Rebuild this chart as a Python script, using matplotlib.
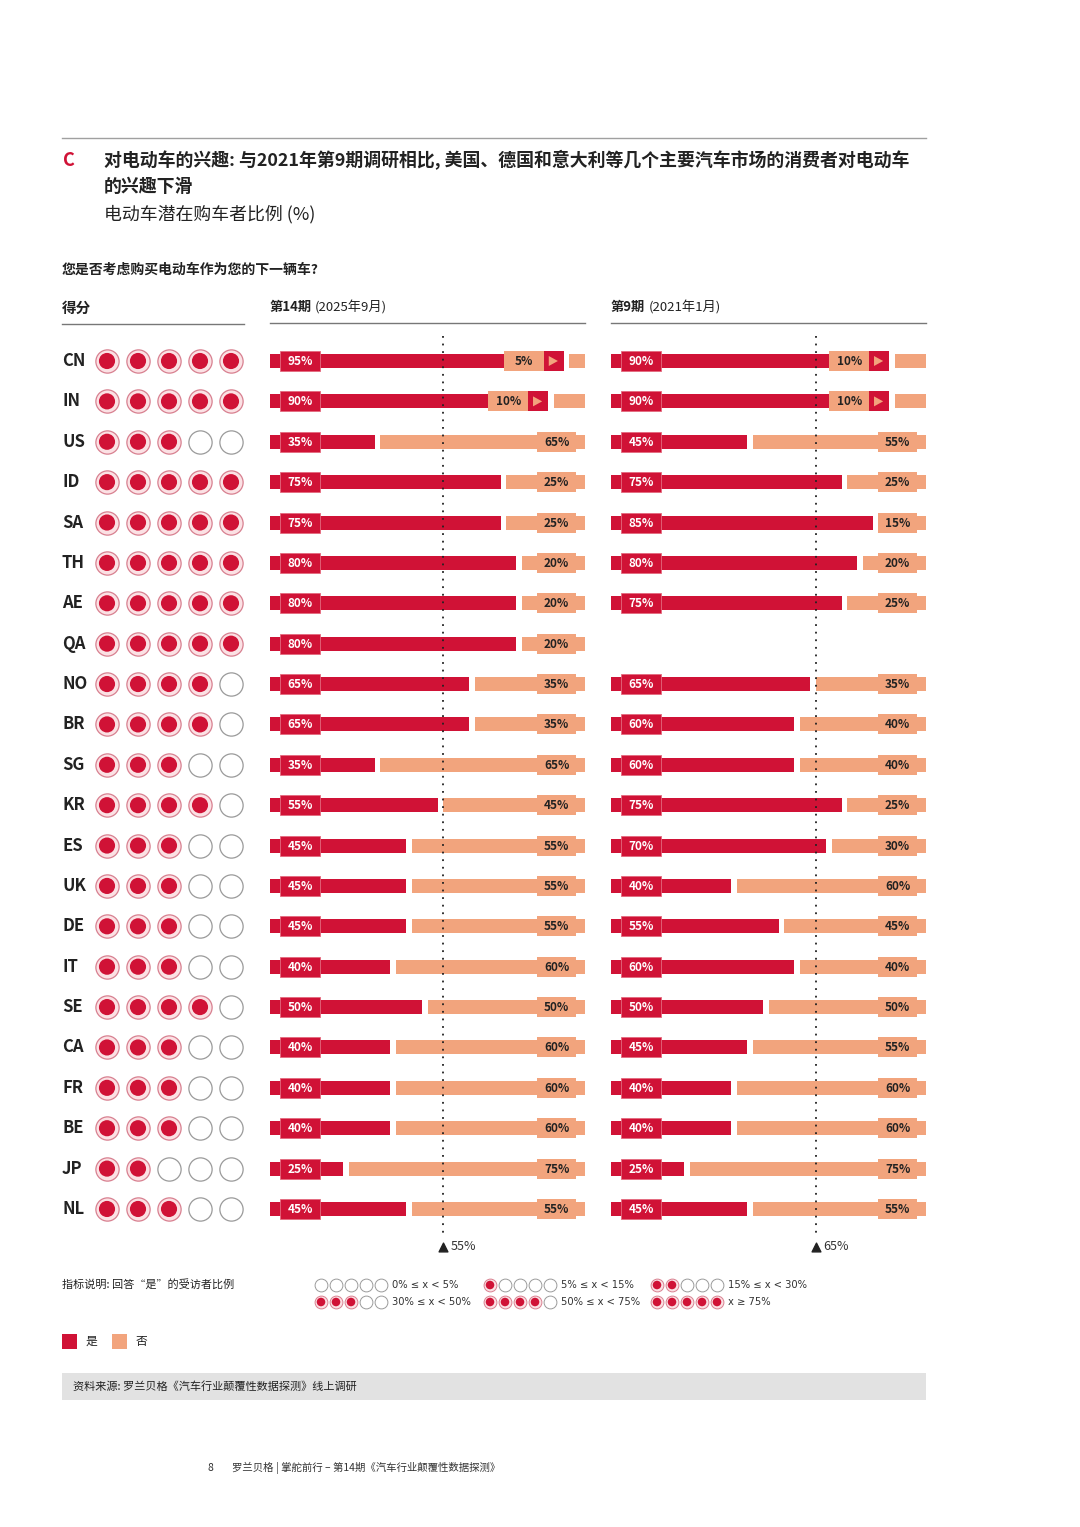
import matplotlib
matplotlib.use("Agg")
import matplotlib.pyplot as plt
from matplotlib.patches import Rectangle, Polygon

plt.rcParams['font.family'] = ['Noto Sans CJK SC', 'DejaVu Sans']

# data
countries = ["CN", "IN", "US", "ID", "SA", "TH", "AE", "QA", "NO", "BR", "SG",
             "KR", "ES", "UK", "DE", "IT", "SE", "CA", "FR", "BE", "JP", "NL"]
yes_2025 = [95, 90, 35, 75, 75, 80, 80, 80, 65, 65, 35,
            55, 45, 45, 45, 40, 50, 40, 40, 40, 25, 45]
yes_2021 = [90, 90, 45, 75, 85, 80, 75, None, 65, 60, 60,
            75, 70, 40, 55, 60, 50, 45, 40, 40, 25, 45]
scores = [5, 5, 3, 5, 5, 5, 5, 5, 4, 4, 3,
          4, 3, 3, 3, 3, 4, 3, 3, 3, 2, 3]
avg_2025 = 55
avg_2021 = 65

legend_filled = [0, 1, 2, 3, 4, 5]
legend_labels = ["0% ≤ x < 5%", "5% ≤ x < 15%", "15% ≤ x < 30%",
                 "30% ≤ x < 50%", "50% ≤ x < 75%", "x ≥ 75%"]

RED = '#D01236'
SALMON = '#F2A47D'
PINK = '#FBE1E4'
DARK = '#222222'
GREY = '#9A9A9A'

fig = plt.figure(figsize=(10.8, 15.27), dpi=100)
ax = fig.add_axes([0, 0, 1, 1])
ax.set_xlim(0, 1080)
ax.set_ylim(1527, 0)
ax.axis('off')


def row_y(i):
    return 361 + i * 40.38


# ---- header texts
ax.plot([62, 926], [138, 138], color='#A0A0A0', lw=1)
ax.text(63, 160, "C", color=RED, fontsize=13, fontweight='bold', va='center')
ax.text(104, 160, "对电动车的兴趣: 与2021年第9期调研相比, 美国、德国和意大利等几个主要汽车市场的消费者对电动车",
        fontsize=12.9, fontweight='bold', va='center', color=DARK)
ax.text(104, 187, "的兴趣下滑", fontsize=12.9, fontweight='bold', va='center', color=DARK)
ax.text(104, 214, "电动车潜在购车者比例 (%)", fontsize=12.9, va='center', color=DARK)
ax.text(62, 270, "您是否考虑购买电动车作为您的下一辆车?", fontsize=10, fontweight='bold',
        va='center', color=DARK)

ax.text(62, 308, "得分", fontsize=10.5, fontweight='bold', va='center', color=DARK)
ax.plot([62, 244], [324, 324], color='#777777', lw=1)

ax.text(270, 307, "第14期", fontsize=9.5, fontweight='bold', va='center', color=DARK)
ax.text(315, 307, "(2025年9月)", fontsize=9.5, va='center', color=DARK)
ax.plot([270, 585], [323, 323], color='#777777', lw=1)
ax.text(611, 307, "第9期", fontsize=9.5, fontweight='bold', va='center', color=DARK)
ax.text(649, 307, "(2021年1月)", fontsize=9.5, va='center', color=DARK)
ax.plot([611, 926], [323, 323], color='#777777', lw=1)

# ---- country labels and score circles
circle_x = [107, 138, 169, 200, 231]
for i, (c, s) in enumerate(zip(countries, scores)):
    y = row_y(i)
    ax.text(62, y, c, fontsize=12, fontweight='bold', va='center', color=DARK)
    for k, cx in enumerate(circle_x):
        if k < s:
            ax.scatter(cx, y, s=280, facecolor=PINK, edgecolor='#D88090', lw=0.9, zorder=3)
            ax.scatter(cx, y, s=135, facecolor=RED, edgecolor='none', zorder=4)
        else:
            ax.scatter(cx, y, s=280, facecolor='white', edgecolor=GREY, lw=0.9, zorder=3)


# ---- bar panels
def draw_panel(left_px, values, avg):
    pax = fig.add_axes([left_px / 1080, 0, 315 / 1080, 1])
    pax.set_xlim(0, 100)
    pax.set_ylim(1527, 0)
    pax.axis('off')
    for i, v in enumerate(values):
        if v is None:
            continue
        y = row_y(i)
        no = 100 - v
        red_end = v - 1.8
        pax.barh(y, red_end, left=0, height=14, color=RED, zorder=2)
        pax.barh(y, no, left=v, height=14, color=SALMON, zorder=2)
        pax.add_patch(Rectangle((3.3, y - 10), 12.6, 20, facecolor=RED,
                                edgecolor='#E46A7E', lw=0.6, zorder=3))
        pax.text(9.6, y + 0.5, f"{v}%", color='white', fontsize=8.5, fontweight='bold',
                 ha='center', va='center', zorder=4)
        if no > 12:
            pax.add_patch(Rectangle((84.8, y - 10), 12.4, 20, facecolor=SALMON,
                                    edgecolor='none', zorder=3))
            pax.text(91.0, y + 0.5, f"{no}%", color=DARK, fontsize=8.5, fontweight='bold',
                     ha='center', va='center', zorder=4)
        else:
            # too small for a label: put it on the red bar with an arrow
            arrow_l = red_end - 6.2
            pax.add_patch(Rectangle((arrow_l, y - 10), 6.2, 20, facecolor=RED,
                                    edgecolor='none', zorder=3))
            pax.add_patch(Polygon([[arrow_l + 1.5, y - 5], [arrow_l + 1.5, y + 5],
                                   [arrow_l + 4.4, y]], closed=True,
                                  facecolor=SALMON, edgecolor='none', zorder=4))
            box_l = arrow_l - 12.7
            pax.add_patch(Rectangle((box_l, y - 10), 12.7, 20, facecolor=SALMON,
                                    edgecolor='none', zorder=3))
            pax.text(box_l + 6.35, y + 0.5, f"{no}%", color=DARK, fontsize=8.5,
                     fontweight='bold', ha='center', va='center', zorder=4)
    pax.plot([avg, avg], [336, 1236], color=DARK, lw=1.3, ls=(0, (1, 3.2)), zorder=5)
    pax.scatter(avg, 1247, marker='^', s=40, color=DARK, zorder=5)
    pax.text(avg + 2.3, 1247, f"{avg}%", fontsize=9, va='center', color='#333333')
    return pax


draw_panel(270, yes_2025, avg_2025)
draw_panel(611, yes_2021, avg_2021)

# ---- legend
ax.text(62, 1285, "指标说明: 回答“是”的受访者比例", fontsize=8, va='center', color=DARK)
group_x = [321, 490, 657]
for j, (nf, lab) in enumerate(zip(legend_filled, legend_labels)):
    gx = group_x[j % 3]
    gy = 1285 if j < 3 else 1302
    for k in range(5):
        cx = gx + k * 15
        if k < nf:
            ax.scatter(cx, gy, s=85, facecolor=PINK, edgecolor='#D88090', lw=0.7)
            ax.scatter(cx, gy, s=38, facecolor=RED, edgecolor='none', zorder=4)
        else:
            ax.scatter(cx, gy, s=85, facecolor='white', edgecolor=GREY, lw=0.7)
    ax.text(gx + 71, gy, lab, fontsize=7.2, va='center', color='#333333',
            family=['DejaVu Sans'])

ax.add_patch(Rectangle((62, 1334), 15, 15, facecolor=RED, edgecolor='none'))
ax.text(86, 1341, "是", fontsize=8.5, va='center', color=DARK)
ax.add_patch(Rectangle((112, 1334), 15, 15, facecolor=SALMON, edgecolor='none'))
ax.text(136, 1341, "否", fontsize=8.5, va='center', color=DARK)

ax.add_patch(Rectangle((62, 1373), 864, 27, facecolor='#E2E2E2', edgecolor='none'))
ax.text(73, 1387, "资料来源: 罗兰贝格《汽车行业颠覆性数据探测》线上调研", fontsize=8,
        va='center', color=DARK)

ax.text(207, 1468, "8", fontsize=7.5, va='center', color='#333333')
ax.text(232, 1468, "罗兰贝格 | 掌舵前行 – 第14期《汽车行业颠覆性数据探测》", fontsize=7.5,
        va='center', color='#333333')

fig.savefig("out.png", dpi=100)
